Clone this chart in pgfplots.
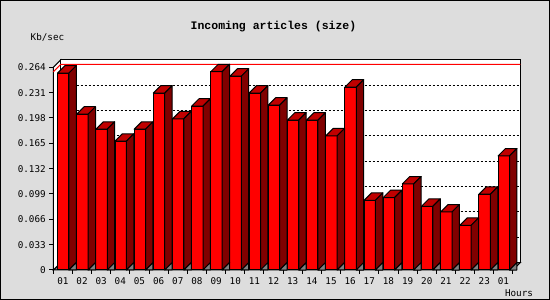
\documentclass[border=0pt]{standalone}
\usepackage{fontspec}
\setmainfont{DejaVu Sans Mono}
\newfontfamily\titlefont{Liberation Mono}
\usepackage{pgfplots}
\usepackage{pgfplotstable}
\pgfplotsset{compat=1.18}

\definecolor{bg}{RGB}{221,221,221}
\definecolor{barfront}{RGB}{255,0,0}
\definecolor{barside}{RGB}{128,0,0}
\definecolor{bartop}{RGB}{192,0,0}
\definecolor{floorgray}{RGB}{128,128,128}

\pgfplotstableread{
x y
0.52 0.2565
1.52 0.2030
2.52 0.1834
3.52 0.1678
4.52 0.1834
5.52 0.2304
6.52 0.1969
7.52 0.2134
8.52 0.2582
9.52 0.2525
10.52 0.2304
11.52 0.2147
12.52 0.1952
13.52 0.1952
14.52 0.1747
15.52 0.2382
16.52 0.0908
17.52 0.0943
18.52 0.1121
19.52 0.0830
20.52 0.0756
21.52 0.0582
22.52 0.0987
23.52 0.1486
}\datatable

\begin{document}
\begin{tikzpicture}
\useasboundingbox (0,0) rectangle (550pt,300pt);
\fill[bg] (0,0) rectangle (550pt,300pt);
\draw[black, line width=1pt] (0.5pt,0.5pt) rectangle (549.5pt,299.5pt);
\begin{axis}[
  at={(53.3pt,30pt)}, anchor=south west,
  scale only axis, width=459.7pt, height=202.7pt,
  xmin=0, xmax=24, ymin=0, ymax=0.264,
  clip=false,
  axis lines=left, axis line style={-, line width=1pt},
  tick align=outside, major tick length=4pt,
  tick style={black, line width=1pt},
  xtick={0,...,24},
  xticklabels={01,02,03,04,05,06,07,08,09,10,11,12,13,14,15,16,17,18,19,20,21,22,23,01,{}},
  x tick label style={xshift=9.58pt},
  ytick={0,0.033,0.066,0.099,0.132,0.165,0.198,0.231,0.264},
  yticklabels={0,0.033,0.066,0.099,0.132,0.165,0.198,0.231,0.264},
  tick label style={font=\fontsize{9.3}{10}\selectfont},
]
% floor
\addplot[fill=floorgray, draw=black, line width=1pt] coordinates {(0,0) (24,0) (24.386,0.00964) (0.386,0.00964)} -- cycle;
% left wall
\addplot[fill=white, draw=black, line width=1pt] coordinates {(0,0) (0.386,0.00964) (0.386,0.27364) (0,0.264)} -- cycle;
% back wall
\addplot[fill=white, draw=black, line width=1pt] coordinates {(0.386,0.00964) (24.386,0.00964) (24.386,0.27364) (0.386,0.27364)} -- cycle;
% grid lines on back wall
\addplot[black, line width=1pt, dash pattern=on 2pt off 2pt, unbounded coords=jump] coordinates {
 (0.386,0.04264) (24.386,0.04264) (0,nan)
 (0.386,0.07564) (24.386,0.07564) (0,nan)
 (0.386,0.10864) (24.386,0.10864) (0,nan)
 (0.386,0.14164) (24.386,0.14164) (0,nan)
 (0.386,0.17464) (24.386,0.17464) (0,nan)
 (0.386,0.20764) (24.386,0.20764) (0,nan)
 (0.386,0.24064) (24.386,0.24064)
};
% max line
\addplot[red, line width=1pt] coordinates {(0,0.2582) (0.386,0.26784) (24.386,0.26784)};
% side and top faces
\addplot[scatter, only marks, mark=*, mark size=0pt, mark options={draw=none, fill=none},
  visualization depends on={\thisrow{y} \as \yv},
  scatter/@pre marker code/.code={
    \pgfmathsetmacro\h{-\yv*767.8}
    \pgfmathsetmacro\hb{-\yv*767.8+7.4}
    \filldraw[fill=bartop, draw=black, line width=1pt, line join=round] (-5.7pt,0pt) -- (5.7pt,0pt) -- (13.1pt,7.4pt) -- (1.7pt,7.4pt) -- cycle;
    \filldraw[fill=barside, draw=black, line width=1pt, line join=round] (5.7pt,0pt) -- (13.1pt,7.4pt) -- (13.1pt,\hb pt) -- (5.7pt,\h pt) -- cycle;
    \filldraw[fill=floorgray, draw=black, line width=1pt, line join=round] (5.7pt,\h pt) -- (13.1pt,\hb pt) -- (13.1pt,\h pt) -- cycle;
  },
  scatter/@post marker code/.code={},
] table[x=x, y=y] {\datatable};
% front faces
\addplot[ybar, bar width=0.595, bar shift=0pt, fill=barfront, draw=black, line width=1pt] table[x=x, y=y] {\datatable};
\end{axis}
\node[font=\titlefont\bfseries\fontsize{11.5}{12}\selectfont] at (273.5pt,273pt) {Incoming articles (size)};
\node[font=\fontsize{9.3}{10}\selectfont] at (47.5pt,263pt) {Kb/sec};
\node[font=\fontsize{9.3}{10}\selectfont] at (519pt,7.3pt) {Hours};
\end{tikzpicture}
\end{document}
